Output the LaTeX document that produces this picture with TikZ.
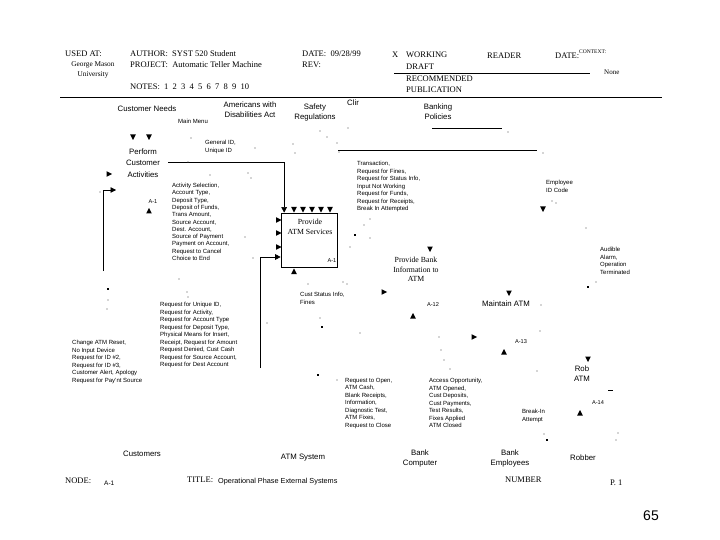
\documentclass[tikz,border=0pt]{standalone}
\usepackage{fontspec}
\setmainfont{Liberation Serif}
\setsansfont{Liberation Sans}
\usetikzlibrary{arrows.meta}
\begin{document}
\begin{tikzpicture}[x=1pt,y=-1pt,
  hd/.style={font=\fontsize{8.5}{9}\selectfont, inner sep=0, anchor=west},
  sl/.style={font=\sffamily\fontsize{7.8}{10}\selectfont, inner sep=0, align=center},
  tl/.style={font=\fontsize{7.8}{9.5}\selectfont, inner sep=0, align=center},
  tiny/.style={font=\sffamily\fontsize{6}{7.5}\selectfont, inner sep=0, align=left, anchor=north west},
  idl/.style={font=\sffamily\fontsize{5.6}{6}\selectfont, inner sep=0},
  conn/.style={draw, line width=0.6pt, -{Triangle[length=5.5pt,width=5.6pt]}},
  rule/.style={draw, line width=0.6pt},
  speck/.style={fill=black!70},
  dn/.pic={\fill (-2.8,-5.5) -- (2.8,-5.5) -- (0,0) -- cycle;},
  up/.pic={\fill (-2.8,5.5) -- (2.8,5.5) -- (0,0) -- cycle;},
  rt/.pic={\fill (-5.5,-2.8) -- (-5.5,2.8) -- (0,0) -- cycle;}
]
\useasboundingbox (0,0) rectangle (720,540);
\fill[white] (0,0) rectangle (720,540);

% ---------------- header ----------------
\node[hd] (usedat) at (65,54) {USED AT:};
\node[font=\fontsize{7.3}{10}\selectfont, inner sep=0, align=center] (gmu) at (93,70) {George Mason\\University};
\node[hd] (author) at (130,54) {AUTHOR:\ \ SYST 520 Student};
\node[hd] (project) at (130,65) {PROJECT:\ \ Automatic Teller Machine};
\node[hd] (notes) at (130,87) {NOTES:\ \ 1\ \ 2\ \ 3\ \ 4\ \ 5\ \ 6\ \ 7\ \ 8\ \ 9\ \ 10};
\node[hd] (date) at (302,54) {DATE:\ \ 09/28/99};
\node[hd] (rev) at (302,65) {REV:};
\node[hd] (xmark) at (392,55) {X};
\node[hd] (working) at (406,55) {WORKING};
\node[hd] (draft) at (406,67) {DRAFT};
\node[hd] (recom) at (406,79) {RECOMMENDED};
\node[hd] (publ) at (406,90) {PUBLICATION};
\node[hd] (reader) at (487,56) {READER};
\node[hd] (date2) at (555,56) {DATE:};
\node[hd, font=\fontsize{5.5}{6}\selectfont] (context) at (579,52) {CONTEXT:};
\node[hd, font=\fontsize{7}{8}\selectfont] (none) at (604,72) {None};
\draw[rule] (394,73) -- (590,73);
\draw[rule] (60,97) -- (662,97);

% ---------------- controls / top ----------------
\node[sl] (custneeds) at (147,109) {Customer Needs};
\node[sl] (ada) at (250,110) {Americans with\\Disabilities Act};
\node[sl] (safety) at (315,112) {Safety\\Regulations};
\node[sl, anchor=west] (clin) at (347,103) {Clir};
\node[sl] (banking) at (438,112) {Banking\\Policies};
\draw[rule] (432,128) -- (502,128);
\draw[rule] (338,150) -- (537,150);
\node[tiny] (mainmenu) at (178,119) {Main Menu};
\node[tiny] (genid) at (205,140) {General ID,\\Unique ID};

% ---------------- A-1 Perform Customer Activities ----------------
\node[sl, font=\sffamily\fontsize{7.8}{11.5}\selectfont] (pca) at (143,163) {Perform\\Customer\\Activities};
\pic at (133,140) {dn};
\pic at (149,140) {dn};
\pic at (112,174) {rt};
\pic at (149,208) {up};
\node[idl] (pcaid) at (153,202) {A-1};
\coordinate (lf1) at (103,271);
\coordinate (lf2) at (116,190);
\draw[conn] (lf1) |- (lf2);

\node[tiny, font=\sffamily\fontsize{6}{7.3}\selectfont] (actlist) at (172,183) {Activity Selection,\\Account Type,\\Deposit Type,\\Deposit of Funds,\\Trans Amount,\\Source Account,\\Dest. Account,\\Source of Payment\\Payment on Account,\\Request to Cancel\\Choice to End};

% ---------------- Provide ATM Services ----------------
\node[draw, line width=1.7pt, minimum width=56, minimum height=54, inner sep=0] (a11) at (309.5,240.5) {};
\node[tl] (a11t) at (310,227) {Provide\\ATM Services};
\node[idl] (a11id) at (332,261) {A-1};
\coordinate (gl) at (168,162);
\draw[conn] (gl) -| ([xshift=3.5pt]a11.north west);
\foreach \xx in {294,303,312,321,330} \pic at (\xx,212.5) {dn};
\foreach \yy in {220,233,247} \pic at (281.5,\yy) {rt};
\coordinate (ul) at (260,368);
\draw[conn] (ul) |- ([yshift=-16.5pt]a11.west);
\pic at (294,268.5) {up};

\node[tiny] (translist) at (357,161) {Transaction,\\Request for Fines,\\Request for Status Info,\\Input Not Working\\Request for Funds,\\Request for Receipts,\\Break In Attempted};
\node[tiny] (custstat) at (300,292) {Cust Status Info,\\Fines};

% ---------------- Provide Bank Information ----------------
\pic at (430,252) {dn};
\node[tl] (a12t) at (416,269.5) {Provide Bank\\Information to\\ATM};
\pic at (387,292) {rt};
\node[idl] (a12id) at (433,305) {A-12};
\pic at (413,313) {up};

% ---------------- Maintain ATM ----------------
\pic at (509,296) {dn};
\node[sl] (a13t) at (506,304) {Maintain ATM};
\pic at (477,337) {rt};
\node[idl] (a13id) at (521,342) {A-13};
\pic at (504,349) {up};

% ---------------- Rob ATM ----------------
\pic at (588,362) {dn};
\node[sl] (a14t) at (582,374) {Rob\\ATM};
\draw[rule] (608,390) -- (613,390);
\node[idl] (a14id) at (598,403) {A-14};
\pic at (580,410) {up};
\node[tiny] (breakin) at (522,409) {Break-In\\Attempt};

\node[tiny] (employee) at (546,180) {Employee\\ID Code};
\pic at (543,212) {dn};
\node[tiny] (audible) at (600,247) {Audible\\Alarm,\\Operation\\Terminated};

% ---------------- lower lists ----------------
\node[tiny] (uniqlist) at (160,302) {Request for Unique ID,\\Request for Activity,\\Request for Account Type\\Request for Deposit Type,\\Physical Means for Insert,\\Receipt, Request for Amount\\Request Denied, Cust Cash\\Request for Source Account,\\Request for Dest Account};
\node[tiny] (chglist) at (72,340) {Change ATM Reset,\\No Input Device\\Request for ID \#2,\\Request for ID \#3,\\Customer Alert, Apology\\Request for Pay'nt Source};
\node[tiny] (openlist) at (345,378) {Request to Open,\\ATM Cash,\\Blank Receipts,\\Information,\\Diagnostic Test,\\ATM Fixes,\\Request to Close};
\node[tiny] (acclist) at (429,378) {Access Opportunity,\\ATM Opened,\\Cust Deposits,\\Cust Payments,\\Test Results,\\Fixes Applied\\ATM Closed};

% ---------------- specks (remnants) ----------------
\foreach \p in {(191,138),(188,162),(210,175),(248,173),(251,178),(255,148),(293,144),(320,131),(327,137),(348,128),(337,143),(295,153),(339,152),(100,192),(245,237),(253,258),(370,219),(364,225),(370,238),(350,247),(343,282),(347,284),(308,284),(179,279),(187,292),(188,297),(108,300),(107,309),(267,323),(320,318),(360,333),(439,337),(441,350),(444,360),(450,369),(540,331),(541,305),(537,371),(337,380),(544,434),(616,440),(618,433),(508,132),(543,153),(552,201),(556,203),(586,228),(596,282)}
  \fill[speck] \p circle (0.7);
\foreach \p in {(108,289),(322,327),(318,375),(547,440),(588,287),(355,235)}
  \fill \p +(-1.4,-1.4) rectangle +(1.4,1.4);

% ---------------- mechanisms / bottom ----------------
\node[sl] (customers) at (142,454) {Customers};
\node[sl] (atmsys) at (303,458) {ATM System};
\node[sl] (bankcomp) at (420,458) {Bank\\Computer};
\node[sl] (bankemp) at (510,458) {Bank\\Employees};
\node[sl] (robber) at (583,458) {Robber};

% ---------------- footer ----------------
\node[hd] (node) at (65,481) {NODE:};
\node[hd, font=\sffamily\fontsize{6.5}{7}\selectfont] (nodeid) at (104,483) {A-1};
\node[hd] (title) at (187,480) {TITLE:};
\node[hd, font=\sffamily\fontsize{7.3}{8}\selectfont] (titletext) at (218,482) {Operational Phase External Systems};
\node[hd] (number) at (505,480) {NUMBER};
\node[hd] (pnum) at (610,483) {P. 1};
\node[font=\sffamily\fontsize{14}{16}\selectfont, inner sep=0] (pg) at (651,516) {65};
\end{tikzpicture}
\end{document}
